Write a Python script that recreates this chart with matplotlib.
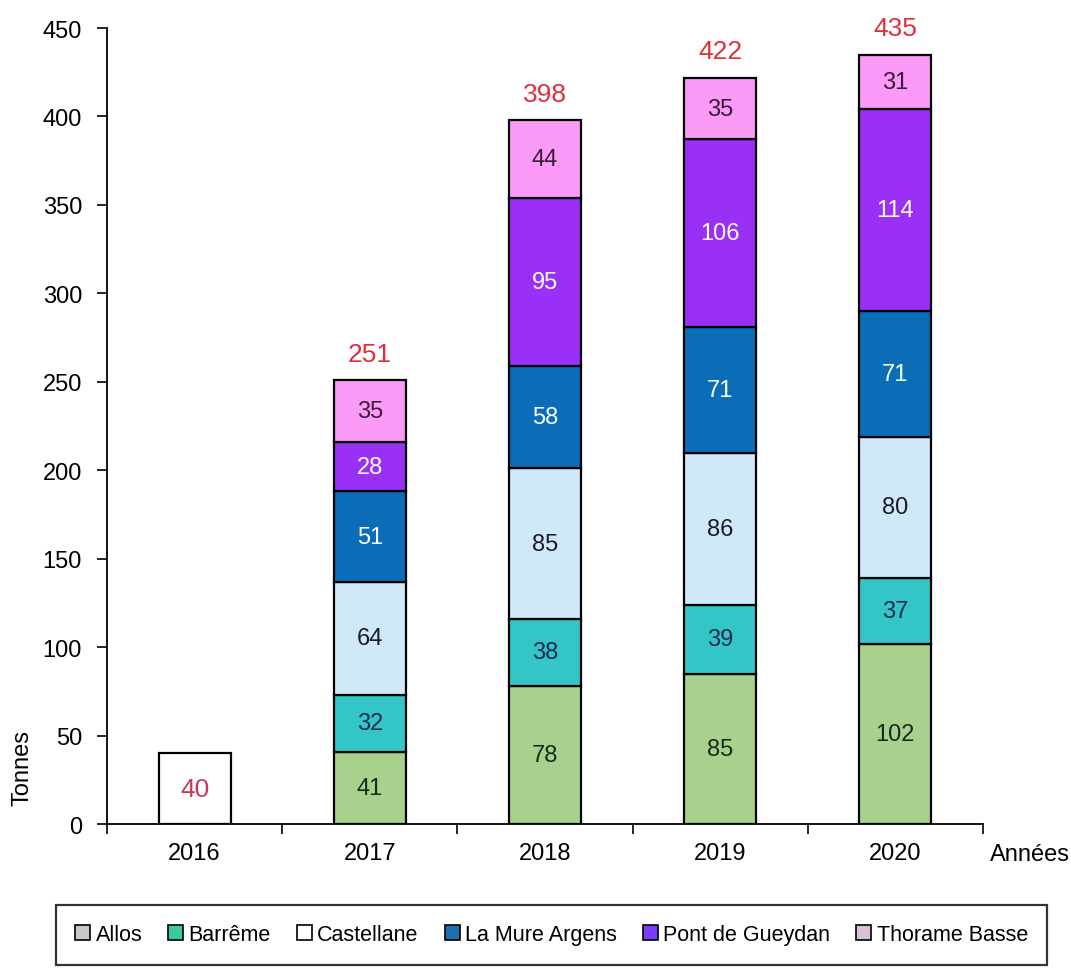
import matplotlib.pyplot as plt
import numpy as np
from matplotlib.patches import Patch

plt.rcParams["font.family"] = ["Liberation Sans Narrow", "Liberation Sans", "DejaVu Sans"]

# ── Data ─────────────────────────────────────────────────────────────
years = ["2016", "2017", "2018", "2019", "2020"]
sites = ["Allos", "Barrême", "Castellane", "La Mure Argens",
         "Pont de Gueydan", "Thorame Basse"]

# tonnage per site, 2017-2020 (2016 only known as a total)
allos      = [41, 78, 85, 102]
barreme    = [32, 38, 39, 37]
castellane = [64, 85, 86, 80]
la_mure    = [51, 58, 71, 71]
pont       = [28, 95, 106, 114]
thorame    = [35, 44, 35, 31]

totals = [40, 251, 398, 422, 435]

series = [allos, barreme, castellane, la_mure, pont, thorame]
bar_colors = ["#a9d18e", "#33c6c8", "#cfe9fa", "#0b6db7", "#9a2ff5", "#fb9bf7"]
text_colors = ["#1a2a1a", "#1a2a4a", "#1a1a2a", "white", "white", "#3a1a3a"]
legend_colors = ["#c8c8c8", "#3cc8a0", "#ffffff", "#1f6fb0", "#7a3cff", "#d8c0d8"]

# ── Figure ───────────────────────────────────────────────────────────
fig = plt.figure(figsize=(10.71, 9.78), dpi=100)
ax = fig.add_axes([0.0999, 0.1564, 0.8179, 0.8139])

x = np.arange(len(years))
width = 0.41
xs = x[1:]

# 2016: total only, empty box
ax.bar(x[0], totals[0], width, color="white", edgecolor="black", linewidth=1.6)
ax.text(x[0], totals[0] / 2, f"{totals[0]}", ha="center", va="center",
        fontsize=19, color="#c83a5a")

bottom = np.zeros(len(xs))
for vals, col, tcol in zip(series, bar_colors, text_colors):
    vals = np.array(vals)
    ax.bar(xs, vals, width, bottom=bottom, color=col, edgecolor="black",
           linewidth=1.6)
    for xi, b, v in zip(xs, bottom, vals):
        ax.text(xi, b + v / 2, f"{v}", ha="center", va="center",
                fontsize=17, color=tcol)
    bottom += vals

for xi, t in zip(xs, totals[1:]):
    ax.text(xi, t + 8, f"{t}", ha="center", va="bottom",
            fontsize=19, color="#e0303a")

ax.set_xlim(-0.5, 4.5)
ax.set_ylim(0, 450)
ax.set_yticks(np.arange(0, 451, 50))
ax.set_xticks(x)
ax.set_xticklabels(years)
ax.set_xticks(np.arange(-0.5, 4.6, 1), minor=True)
ax.tick_params(axis="x", which="major", length=0, pad=13, labelsize=17)
ax.tick_params(axis="x", which="minor", length=7, width=1.2, direction="out")
ax.tick_params(axis="y", length=7, width=1.2, pad=11, labelsize=17)

for side in ["top", "right"]:
    ax.spines[side].set_visible(False)
for side in ["left", "bottom"]:
    ax.spines[side].set_linewidth(1.3)

fig.text(0.021, 0.215, "Tonnes", rotation=90, ha="center", va="center",
         fontsize=17)
fig.text(0.962, 0.126, "Années", ha="center", va="center", fontsize=17)

handles = [Patch(facecolor=c, edgecolor="black", linewidth=1.2)
           for c in legend_colors]
leg = fig.legend(handles, sites, loc="center", ncol=6,
                 bbox_to_anchor=(0.052, 0.011, 0.926, 0.064), mode="expand",
                 fontsize=15.5, handlelength=0.7, handleheight=0.7,
                 handletextpad=0.25, columnspacing=0.8, borderpad=0.9,
                 borderaxespad=0, fancybox=False, frameon=True,
                 edgecolor="black")
leg.get_frame().set_linewidth(1.6)

fig.savefig("out.png", dpi=100)
